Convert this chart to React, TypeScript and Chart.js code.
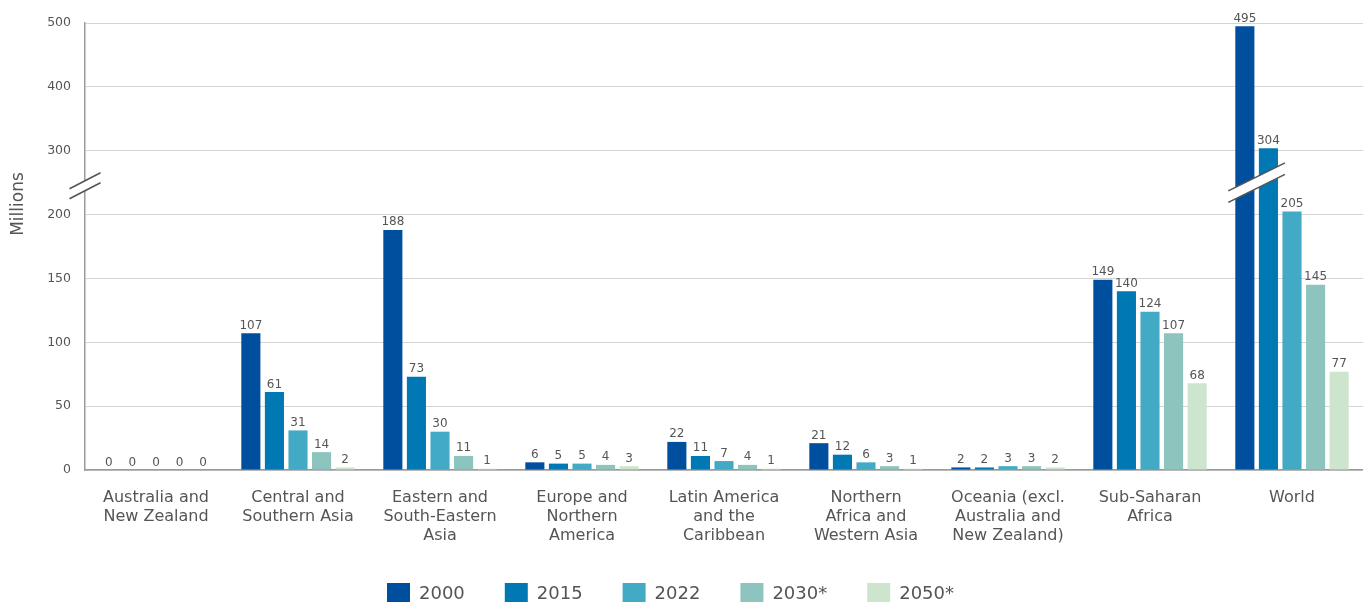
import { useEffect, useRef } from "react";
import {
  Chart,
  BarController,
  BarElement,
  CategoryScale,
  LinearScale,
  Legend,
} from "chart.js";

// Regions on the x axis (multi-line labels)
const categories: string[][] = [
  ["Australia and", "New Zealand"],
  ["Central and", "Southern Asia"],
  ["Eastern and", "South-Eastern", "Asia"],
  ["Europe and", "Northern", "America"],
  ["Latin America", "and the", "Caribbean"],
  ["Northern", "Africa and", "Western Asia"],
  ["Oceania (excl.", "Australia and", "New Zealand)"],
  ["Sub-Saharan", "Africa"],
  ["World"],
];

// Values in millions
const values2000 = [0, 107, 188, 6, 22, 21, 2, 149, 495];
const values2015 = [0, 61, 73, 5, 11, 12, 2, 140, 304];
const values2022 = [0, 31, 30, 5, 7, 6, 3, 124, 205];
const values2030 = [0, 14, 11, 4, 4, 3, 3, 107, 145];
const values2050 = [0, 2, 1, 3, 1, 1, 2, 68, 77];

const seriesNames = ["2000", "2015", "2022", "2030*", "2050*"];
const seriesColors = ["#004f9f", "#0078b4", "#43aac5", "#8dc4bd", "#cde5cc"];

const yTicks = [0, 50, 100, 150, 200, 300, 400, 500];
const Y_MAX = 500;
// Above the break, each unit takes half the height it takes below
const BREAK_AT = 200;
const UPPER_RATIO = 2;

const FONT = "'DejaVu Sans', sans-serif";
const TEXT = "#555555";

const compress = (v: number) =>
  v <= BREAK_AT ? v : BREAK_AT + (v - BREAK_AT) / UPPER_RATIO;
const expand = (c: number) =>
  c <= BREAK_AT ? c : BREAK_AT + (c - BREAK_AT) * UPPER_RATIO;

// Linear axis with a compressed segment above BREAK_AT
class BrokenLinearScale extends LinearScale {
  static id = "brokenLinear";

  buildTicks() {
    return yTicks.map((value) => ({ value }));
  }

  getPixelForValue(value: number) {
    const lo = compress(this.min);
    const hi = compress(this.max);
    return this.getPixelForDecimal((compress(value) - lo) / (hi - lo));
  }

  getValueForPixel(pixel: number) {
    const lo = compress(this.min);
    const hi = compress(this.max);
    return expand(lo + this.getDecimalForPixel(pixel) * (hi - lo));
  }
}

Chart.register(
  BarController,
  BarElement,
  CategoryScale,
  LinearScale,
  BrokenLinearScale,
  Legend
);

// Draws a white gap bounded by two slanted strokes
function drawBreak(
  ctx: CanvasRenderingContext2D,
  cx: number,
  cy: number,
  halfW: number,
  halfRise: number,
  gap: number
) {
  const x0 = cx - halfW;
  const x1 = cx + halfW;
  ctx.save();
  ctx.fillStyle = "#ffffff";
  ctx.beginPath();
  ctx.moveTo(x0, cy - gap / 2 + halfRise);
  ctx.lineTo(x1, cy - gap / 2 - halfRise);
  ctx.lineTo(x1, cy + gap / 2 - halfRise);
  ctx.lineTo(x0, cy + gap / 2 + halfRise);
  ctx.closePath();
  ctx.fill();
  ctx.strokeStyle = "#555555";
  ctx.lineWidth = 1.6;
  ctx.beginPath();
  ctx.moveTo(x0, cy - gap / 2 + halfRise);
  ctx.lineTo(x1, cy - gap / 2 - halfRise);
  ctx.moveTo(x0, cy + gap / 2 + halfRise);
  ctx.lineTo(x1, cy + gap / 2 - halfRise);
  ctx.stroke();
  ctx.restore();
}

const decorations = {
  id: "decorations",
  afterLayout(chart: any) {
    // nudge the legend row a little to the left of the canvas centre
    if (chart.legend) {
      chart.legend.left -= 11;
      chart.legend.right -= 11;
    }
  },
  afterDatasetsDraw(chart: any) {
    const { ctx, chartArea } = chart;
    const yScale = chart.scales.y;

    // Axis break
    drawBreak(ctx, chartArea.left, yScale.getPixelForValue(245), 15.5, 8, 10);

    // Break across the tallest World bars
    const last = chart.data.labels.length - 1;
    const b0 = chart.getDatasetMeta(0).data[last];
    const b1 = chart.getDatasetMeta(1).data[last];
    const left = b0.x - b0.width / 2 - 7;
    const right = b1.x + b1.width / 2 + 7;
    drawBreak(
      ctx,
      (left + right) / 2,
      yScale.getPixelForValue(250),
      (right - left) / 2,
      14,
      11.5
    );

    // Value labels above the bars
    ctx.save();
    ctx.font = `12px ${FONT}`;
    ctx.fillStyle = TEXT;
    ctx.textAlign = "center";
    ctx.textBaseline = "alphabetic";
    chart.data.datasets.forEach((ds: any, i: number) => {
      const meta = chart.getDatasetMeta(i);
      meta.data.forEach((bar: any, j: number) => {
        ctx.fillText(String(ds.data[j]), bar.x, bar.y - 4.5);
      });
    });
    ctx.restore();
  },
  afterDraw(chart: any) {
    const { ctx } = chart;
    ctx.save();
    ctx.translate(19, 204);
    ctx.rotate(-Math.PI / 2);
    ctx.font = `17px ${FONT}`;
    ctx.fillStyle = TEXT;
    ctx.textAlign = "center";
    ctx.textBaseline = "middle";
    ctx.fillText("Millions", 0, 0);
    ctx.restore();
  },
};

export default function App() {
  const canvasRef = useRef<HTMLCanvasElement | null>(null);

  useEffect(() => {
    const canvas = canvasRef.current;
    if (!canvas) return;
    const allValues = [values2000, values2015, values2022, values2030, values2050];
    const chart = new Chart(canvas, {
      type: "bar",
      data: {
        labels: categories,
        datasets: allValues.map((data, i) => ({
          label: seriesNames[i],
          data,
          backgroundColor: seriesColors[i],
          borderWidth: 0,
          categoryPercentage: 0.83,
          barPercentage: 0.81,
        })),
      },
      options: {
        responsive: false,
        animation: false,
        events: [],
        layout: { padding: { top: 23, left: 0, right: 0, bottom: 0 } },
        plugins: {
          legend: {
            position: "bottom",
            labels: {
              boxWidth: 23,
              boxHeight: 23,
              padding: 40,
              color: TEXT,
              font: { family: FONT, size: 18 },
            },
          },
          tooltip: { enabled: false },
        },
        scales: {
          x: {
            type: "category",
            grid: { display: false, drawTicks: false },
            border: { display: true, color: "#9a9a9a", width: 1.5 },
            ticks: {
              color: TEXT,
              font: { family: FONT, size: 16, lineHeight: 1.2 },
              padding: 18,
              maxRotation: 0,
              autoSkip: false,
            },
            afterFit: (scale: any) => {
              scale.height = 73;
            },
          },
          y: {
            type: "brokenLinear" as any,
            min: 0,
            max: Y_MAX,
            grid: { color: "#d4d4d4", lineWidth: 1, drawTicks: false },
            border: { display: true, color: "#9a9a9a", width: 1.5 },
            ticks: {
              color: TEXT,
              font: { family: FONT, size: 12.5 },
              padding: 14,
              callback: (v: any) => String(v),
            },
            afterFit: (scale: any) => {
              scale.width = 85;
            },
          },
        },
      },
      plugins: [decorations],
    });
    return () => chart.destroy();
  }, []);

  return (
    <div
      style={{
        position: "fixed",
        left: 0,
        top: 0,
        width: 1363,
        height: 602,
        overflow: "hidden",
        background: "#ffffff",
      }}
    >
      <canvas ref={canvasRef} width={1363} height={616} style={{ display: "block" }} />
    </div>
  );
}
